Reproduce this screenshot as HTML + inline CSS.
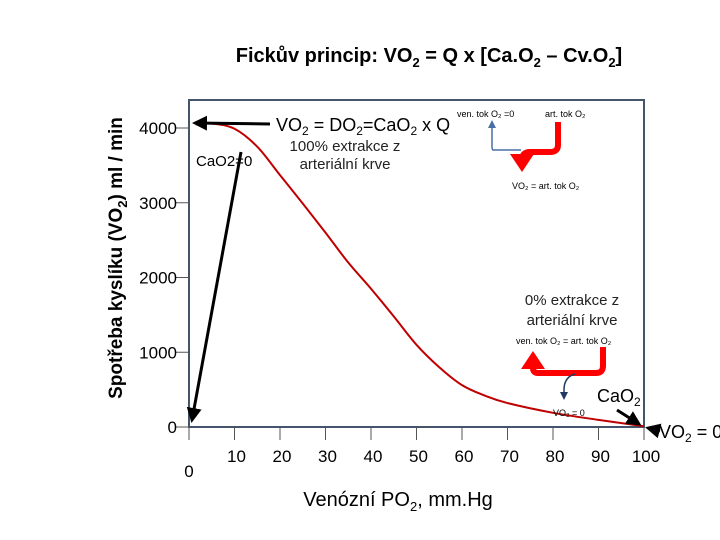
<!DOCTYPE html>
<html><head><meta charset="utf-8"><style>
body{margin:0;background:#fff}
svg{display:block;font-family:"Liberation Sans",sans-serif}
</style></head><body>
<svg width="720" height="540" viewBox="0 0 720 540">
<defs>
<marker id="ah" markerWidth="5" markerHeight="5" refX="4" refY="2.5" orient="auto" markerUnits="strokeWidth"><path d="M0,0L5,2.5L0,5z" fill="#000"/></marker>
<marker id="bh" markerWidth="8" markerHeight="8" refX="6" refY="4" orient="auto" markerUnits="userSpaceOnUse"><path d="M0,0L8,4L0,8z" fill="#4a6fa5"/></marker>
<marker id="nh" markerWidth="8" markerHeight="8" refX="6" refY="4" orient="auto" markerUnits="userSpaceOnUse"><path d="M0,0L8,4L0,8z" fill="#1f3a60"/></marker>
<marker id="rh" markerWidth="4" markerHeight="4" refX="1.5" refY="2" orient="auto" markerUnits="strokeWidth"><path d="M0,0L3,2L0,4z" fill="#f00"/></marker>
</defs>
<text x="429" y="62" text-anchor="middle" font-size="20" font-weight="bold">Fickův princip:  VO<tspan font-size="13" dy="5">2</tspan><tspan dy="-5"> = Q x [Ca.O</tspan><tspan font-size="13" dy="5">2</tspan><tspan dy="-5"> – Cv.O</tspan><tspan font-size="13" dy="5">2</tspan><tspan dy="-5">]</tspan></text>
<rect x="189" y="100" width="455" height="327" fill="none" stroke="#44546a" stroke-width="2"/>
<g id="yt"></g>
<g id="xt"></g>
<text transform="translate(122,258) rotate(-90)" text-anchor="middle" font-size="19" font-weight="bold">Spotřeba kyslíku (VO<tspan font-size="13" dy="5">2</tspan><tspan dy="-5">) ml / min</tspan></text>
<text x="398" y="506" text-anchor="middle" font-size="20">Venózní PO<tspan font-size="13" dy="5">2</tspan><tspan dy="-5">, mm.Hg</tspan></text>
<path id="curve" fill="none" stroke="#c00000" stroke-width="2"/>
<line x1="270" y1="124" x2="195" y2="123" stroke="#000" stroke-width="3" marker-end="url(#ah)"/>
<line x1="241" y1="152" x2="192" y2="420" stroke="#000" stroke-width="3" marker-end="url(#ah)"/>
<line x1="617" y1="410" x2="639" y2="424" stroke="#000" stroke-width="3" marker-end="url(#ah)"/>
<line x1="660" y1="431" x2="648" y2="428" stroke="#000" stroke-width="3" marker-end="url(#ah)"/>
<text x="276" y="131" font-size="18">VO<tspan font-size="12" dy="4">2</tspan><tspan dy="-4"> = DO</tspan><tspan font-size="12" dy="4">2</tspan><tspan dy="-4">=CaO</tspan><tspan font-size="12" dy="4">2</tspan><tspan dy="-4"> x Q</tspan></text>
<text x="345" y="151" text-anchor="middle" font-size="15" fill="#222">100% extrakce z</text>
<text x="345" y="169" text-anchor="middle" font-size="15" fill="#222">arteriální krve</text>
<text x="196" y="166" font-size="15">CaO2=0</text>
<text x="457" y="117" font-size="9">ven. tok O₂ =0</text>
<text x="545" y="117" font-size="9">art. tok O₂</text>
<text x="512" y="189" font-size="9">VO₂ = art. tok O₂</text>
<path d="M521,150 L493,150 Q492,150 492,146 L492,122" fill="none" stroke="#4a6fa5" stroke-width="1.5" marker-end="url(#bh)"/>
<path d="M558,122 L558,145 Q558,152 550,152 L530,152 Q522,152 522,160 L522,163" fill="none" stroke="#f00" stroke-width="6" marker-end="url(#rh)"/>
<text x="572" y="305" text-anchor="middle" font-size="15" fill="#222">0% extrakce z</text>
<text x="572" y="325" text-anchor="middle" font-size="15" fill="#222">arteriální krve</text>
<text x="516" y="344" font-size="9">ven. tok O₂ = art. tok O₂</text>
<text x="553" y="416" font-size="9">VO₂ = 0</text>
<path d="M603,347 L603,366 Q603,373 596,373 L538,373 Q533,373 533,368 L533,360" fill="none" stroke="#f00" stroke-width="6" marker-end="url(#rh)"/>
<path d="M575,374 Q564,377 564,390 L564,398" fill="none" stroke="#1f3a60" stroke-width="1.5" marker-end="url(#nh)"/>
<text x="597" y="402" font-size="18">CaO<tspan font-size="12" dy="4">2</tspan></text>
<text x="659" y="438" font-size="18">VO<tspan font-size="12" dy="4">2</tspan><tspan dy="-4"> = 0</tspan></text>
</svg>
<script>
const yTicks=[0,1000,2000,3000,4000];
const xTickLabels=[0,10,20,30,40,50,60,70,80,90,100];
const po2=[1.5,5,10,15,20,25,30,35,40,45,50,55,60,65,70,80,90,100];
const vo2=[4050,4060,3990,3750,3370,2990,2600,2200,1850,1480,1100,800,560,420,320,190,95,10];
const NS='http://www.w3.org/2000/svg';
const X=v=>189+v*4.55, Y=v=>427-v*0.07475;
function mk(t,a,p){const e=document.createElementNS(NS,t);for(const k in a)e.setAttribute(k,a[k]);p.appendChild(e);return e;}
const yg=document.getElementById('yt'), xg=document.getElementById('xt');
yTicks.forEach(v=>{
 const l=mk('line',{x1:176,x2:189,y1:Y(v),y2:Y(v),stroke:'#555'},yg);
 
 
 const t=mk('text',{x:177,y:Y(v)+6,'text-anchor':'end','font-size':17},yg);
 t.textContent=v;
 
 
});
xTickLabels.forEach(v=>{
 const l=mk('line',{x1:X(v),x2:X(v),y1:427,y2:440,stroke:'#555'},xg);
 
 
 const t=mk('text',{x:X(v)+(v===0?0:2),y:v===0?477:462,'text-anchor':'middle','font-size':17},xg);
 t.textContent=v;
 
 
});
const pts=po2.map((p,i)=>[X(p),Y(vo2[i])]);
let d='M'+pts[0].join(',');
for(let i=0;i<pts.length-1;i++){
 const p0=pts[Math.max(i-1,0)],p1=pts[i],p2=pts[i+1],p3=pts[Math.min(i+2,pts.length-1)];
 const c1=[p1[0]+(p2[0]-p0[0])/6,p1[1]+(p2[1]-p0[1])/6];
 const c2=[p2[0]-(p3[0]-p1[0])/6,p2[1]-(p3[1]-p1[1])/6];
 d+=` C${c1[0]},${c1[1]} ${c2[0]},${c2[1]} ${p2[0]},${p2[1]}`;
}
document.getElementById('curve').setAttribute('d',d);
</script>
</body></html>
